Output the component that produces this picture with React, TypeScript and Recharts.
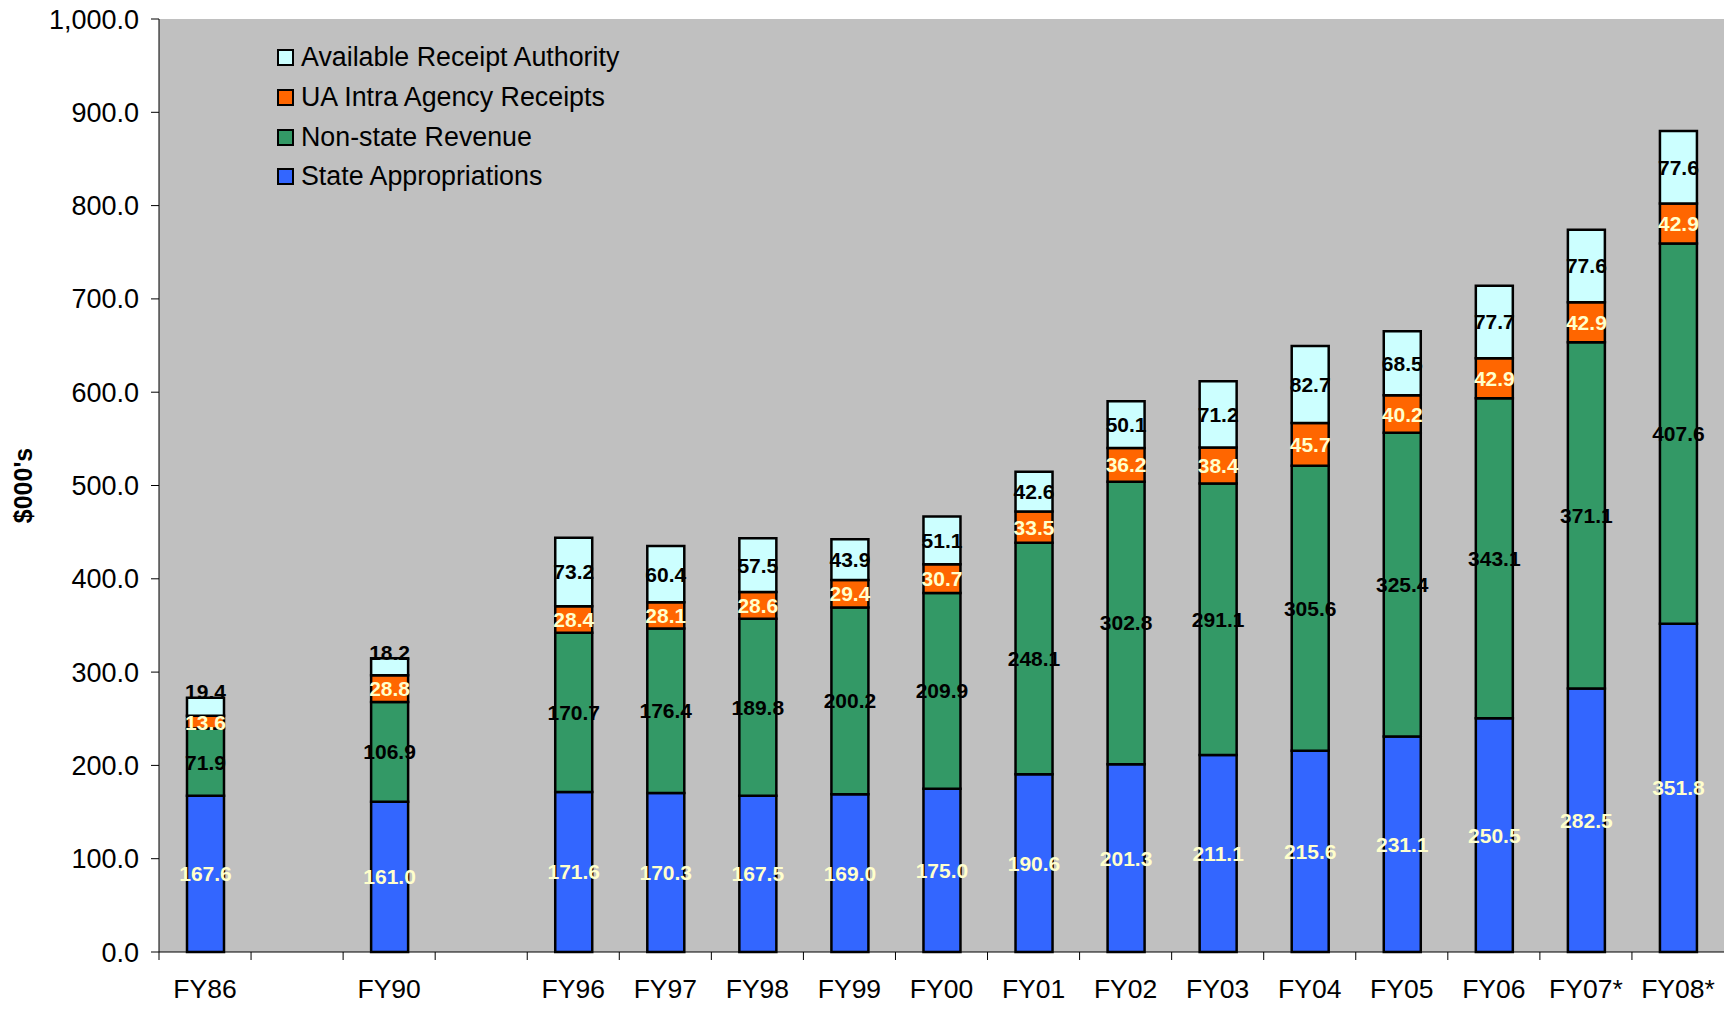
import { BarChart, Bar, XAxis, YAxis, CartesianGrid, LabelList } from 'recharts';

const years = ['FY86', '', 'FY90', '', 'FY96', 'FY97', 'FY98', 'FY99', 'FY00', 'FY01', 'FY02', 'FY03', 'FY04', 'FY05', 'FY06', 'FY07*', 'FY08*'];
const stateAppropriations = [167.6, null, 161.0, null, 171.6, 170.3, 167.5, 169.0, 175.0, 190.6, 201.3, 211.1, 215.6, 231.1, 250.5, 282.5, 351.8];
const nonStateRevenue = [71.9, null, 106.9, null, 170.7, 176.4, 189.8, 200.2, 209.9, 248.1, 302.8, 291.1, 305.6, 325.4, 343.1, 371.1, 407.6];
const uaIntraAgency = [13.6, null, 28.8, null, 28.4, 28.1, 28.6, 29.4, 30.7, 33.5, 36.2, 38.4, 45.7, 40.2, 42.9, 42.9, 42.9];
const availableReceipt = [19.4, null, 18.2, null, 73.2, 60.4, 57.5, 43.9, 51.1, 42.6, 50.1, 71.2, 82.7, 68.5, 77.7, 77.6, 77.6];
const yTicks = [0, 100, 200, 300, 400, 500, 600, 700, 800, 900, 1000];

// stacking order bottom -> top
const series = [
  { key: 'state', name: 'State Appropriations', color: '#3366FF', label: '#FFFFCC' },
  { key: 'nonstate', name: 'Non-state Revenue', color: '#339966', label: '#000000' },
  { key: 'ua', name: 'UA Intra Agency Receipts', color: '#FF6600', label: '#FFFFCC' },
  { key: 'avail', name: 'Available Receipt Authority', color: '#CCFFFF', label: '#000000' },
];

const data = years.map((y, i) => ({
  year: y,
  state: stateAppropriations[i],
  nonstate: nonStateRevenue[i],
  ua: uaIntraAgency[i],
  avail: availableReceipt[i],
}));

const W = 1724;
const H = 1009;
const AXIS_W = 159;
const BAND = (W - AXIS_W) / years.length;
const FONT = '"Liberation Sans", Arial, sans-serif';

const fmtY = (v: number) =>
  v.toLocaleString('en-US', { minimumFractionDigits: 1, maximumFractionDigits: 1 });

const XTick = (props: any) => {
  const { x, y, payload } = props;
  return (
    <g>
      <line x1={x - BAND / 2} x2={x - BAND / 2} y1={y} y2={y + 8} stroke="#000" strokeWidth={1} />
      <text x={x} y={y + 46} textAnchor="middle" fontSize={26.5} fontFamily={FONT} fill="#000">
        {payload.value}
      </text>
    </g>
  );
};

const YLabel = (props: any) => {
  const vb = props.viewBox || {};
  const cx = 23;
  const cy = (vb.y ?? 19) + (vb.height ?? 933) / 2;
  return (
    <text
      x={cx}
      y={cy}
      transform={`rotate(-90, ${cx}, ${cy})`}
      textAnchor="middle"
      dominantBaseline="central"
      fontSize={25}
      fontWeight="bold"
      fontFamily={FONT}
      fill="#000"
    >
      $000's
    </text>
  );
};

// segment value label; a thin top segment gets its label lifted above the bar top
const makeLabel = (color: string, lift: boolean) => (props: any) => {
  const { x, y, width, height, value } = props;
  if (value == null) return null;
  const h = Math.abs(height);
  let cy = y + height / 2;
  if (lift && h < 25) cy = Math.min(y, y + height) - 6;
  return (
    <text
      x={x + width / 2}
      y={cy}
      textAnchor="middle"
      dominantBaseline="central"
      fill={color}
      fontSize={21}
      fontWeight="bold"
      fontFamily={FONT}
    >
      {Number(value).toFixed(1)}
    </text>
  );
};

export default function App() {
  return (
    <div style={{ position: 'absolute', left: 0, top: 0, width: W, height: H, background: '#fff' }}>
      <BarChart width={W} height={H} data={data} margin={{ top: 19, right: 0, bottom: 0, left: 0 }} barSize={37}>
        <CartesianGrid fill="#C0C0C0" stroke="none" horizontal={false} vertical={false} />
        <XAxis
          dataKey="year"
          height={57}
          interval={0}
          tickSize={0}
          tickMargin={0}
          tickLine={false}
          axisLine={{ stroke: '#000', strokeWidth: 1 }}
          tick={<XTick />}
        />
        <YAxis
          width={AXIS_W}
          domain={[0, 1000]}
          ticks={yTicks}
          interval={0}
          tickFormatter={fmtY}
          tickSize={8}
          tickMargin={12}
          axisLine={{ stroke: '#000', strokeWidth: 1 }}
          tickLine={{ stroke: '#000', strokeWidth: 1 }}
          tick={{ fill: '#000', fontSize: 27, fontFamily: FONT }}
          label={<YLabel />}
        />
        {series.map((s) => (
          <Bar
            key={s.key}
            dataKey={s.key}
            name={s.name}
            stackId="a"
            fill={s.color}
            stroke="#000"
            strokeWidth={2.5}
            isAnimationActive={false}
          >
            <LabelList dataKey={s.key} content={makeLabel(s.label, s.key === 'avail')} />
          </Bar>
        ))}
      </BarChart>
      <div style={{ position: 'absolute', left: 277, top: 38, fontFamily: FONT, fontSize: 26.8, color: '#000' }}>
        {[...series].reverse().map((s) => (
          <div key={s.key} style={{ display: 'flex', alignItems: 'center', height: 39.7 }}>
            <div
              style={{
                width: 17,
                height: 17,
                boxSizing: 'border-box',
                background: s.color,
                border: '2.5px solid #000',
                marginRight: 7,
              }}
            />
            <span style={{ whiteSpace: 'nowrap' }}>{s.name}</span>
          </div>
        ))}
      </div>
    </div>
  );
}
